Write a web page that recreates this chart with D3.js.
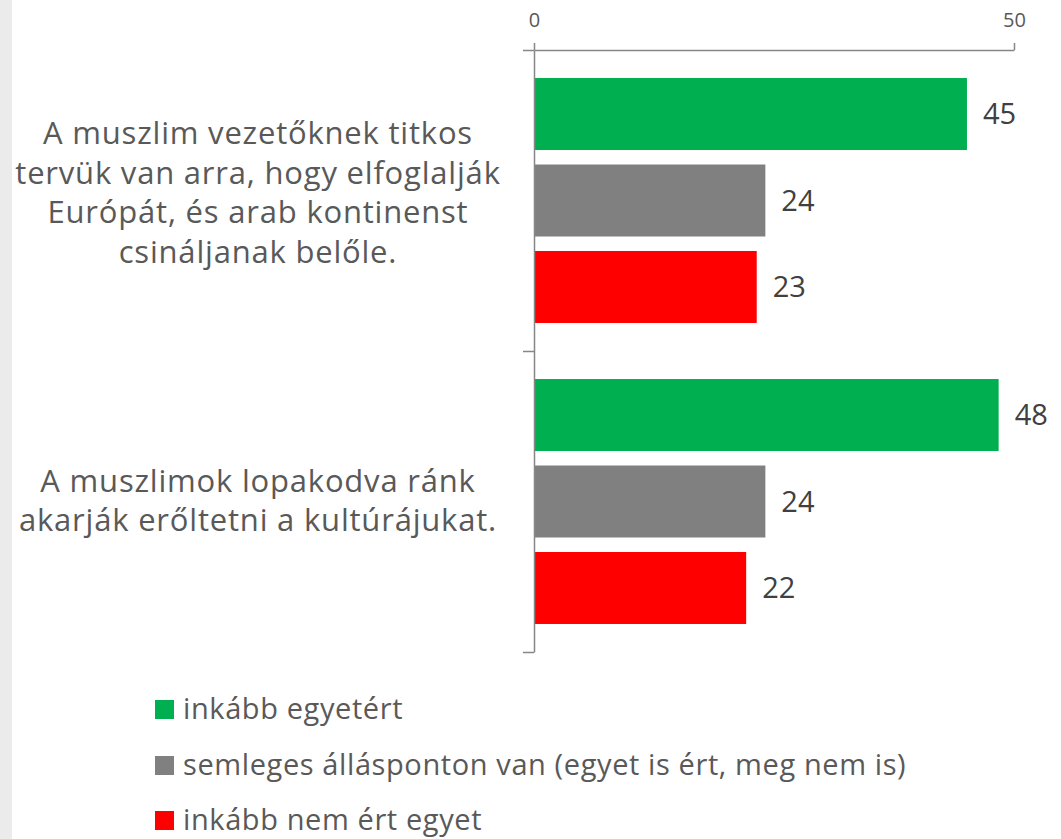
<!DOCTYPE html>
<html><head><meta charset="utf-8">
<script src="https://cdn.jsdelivr.net/npm/d3@7"></script>
<style>
html,body{margin:0;padding:0;background:#fff;}
svg{display:block;font-family:"Open Sans",sans-serif;}
</style></head>
<body>
<svg id="chart" width="1061" height="839"></svg>
<script>
const categories = [
  ["A muszlim vezetőknek titkos", "tervük van arra, hogy elfoglalják", "Európát, és arab kontinenst", "csináljanak belőle."],
  ["A muszlimok lopakodva ránk", "akarják erőltetni a kultúrájukat."]
];
const seriesNames = ["inkább egyetért", "semleges állásponton van (egyet is ért, meg nem is)", "inkább nem ért egyet"];
const seriesColors = ["#00B050", "#808080", "#FF0000"];
const agreeValues = [45.1, 48.4];
const neutralValues = [24.1, 24.1];
const disagreeValues = [23.2, 22.1];
const xTicks = [0, 50];

const seriesValues = [agreeValues, neutralValues, disagreeValues];
const svg = d3.select("#chart");

svg.append("rect").attr("x", 0).attr("y", 0).attr("width", 12).attr("height", 839).attr("fill", "#ebebeb");

const x = d3.scaleLinear().domain([0, 50]).range([534, 1014]);
const y0 = d3.scaleBand().domain(d3.range(categories.length)).range([50, 652]).padding(0);
const y1 = d3.scaleBand().domain(d3.range(seriesNames.length)).range([0, y0.bandwidth()])
  .paddingInner(0.1676).paddingOuter(0.324);

// bars
categories.forEach((c, ci) => {
  const g = svg.append("g").attr("transform", `translate(0,${y0(ci)})`);
  seriesValues.forEach((vals, si) => {
    g.append("rect")
      .attr("x", x(0) + 1)
      .attr("y", y1(si))
      .attr("width", x(vals[ci]) - x(0) - 1)
      .attr("height", y1.bandwidth())
      .attr("fill", seriesColors[si]);
    g.append("text")
      .attr("x", x(vals[ci]) + 16)
      .attr("y", y1(si) + y1.bandwidth() / 2)
      .attr("dy", "0.36em")
      .attr("fill", "#404040")
      .attr("font-size", 29)
      .text(d3.format(".0f")(vals[ci]));
  });
  // category label
  const lh = 39.4;
  const n = c.length;
  const cy = y0(ci) + y0.bandwidth() / 2;
  const t = svg.append("text").attr("text-anchor", "middle").attr("fill", "#595959")
    .attr("font-size", 31).attr("letter-spacing", 0.8);
  c.forEach((line, li) => {
    t.append("tspan").attr("x", 258).attr("y", cy + (li - (n - 1) / 2) * lh + 10 - (n - 2) * 3.5).text(line);
  });
});

// top axis
const xAxis = d3.axisTop(x).tickValues(xTicks).tickSizeInner(7).tickSizeOuter(0).tickPadding(16);
const gx = svg.append("g").attr("transform", "translate(0,50)").call(xAxis);
gx.selectAll("path,line").attr("stroke", "#868686").attr("stroke-width", 1.5);
gx.selectAll("text").attr("font-size", 20).attr("fill", "#595959").attr("font-family", '"Open Sans",sans-serif');

// left category axis (boundary ticks)
const yb = d3.scaleLinear().domain([0, categories.length]).range([50, 652]);
const yAxis = d3.axisLeft(yb).tickValues(d3.range(categories.length + 1)).tickFormat("").tickSizeInner(11).tickSizeOuter(0);
const gy = svg.append("g").attr("transform", "translate(534,0)").call(yAxis);
gy.selectAll("path,line").attr("stroke", "#868686").attr("stroke-width", 1.5);

// legend
const legY = [709, 765, 820];
seriesNames.forEach((s, i) => {
  svg.append("rect").attr("x", 155).attr("y", legY[i] - 9).attr("width", 19).attr("height", 19).attr("fill", seriesColors[i]);
  svg.append("text").attr("x", 183).attr("y", legY[i]).attr("dy", "0.35em")
    .attr("fill", "#595959").attr("font-size", 29).attr("letter-spacing", 0.6).text(s);
});
</script>
</body></html>
